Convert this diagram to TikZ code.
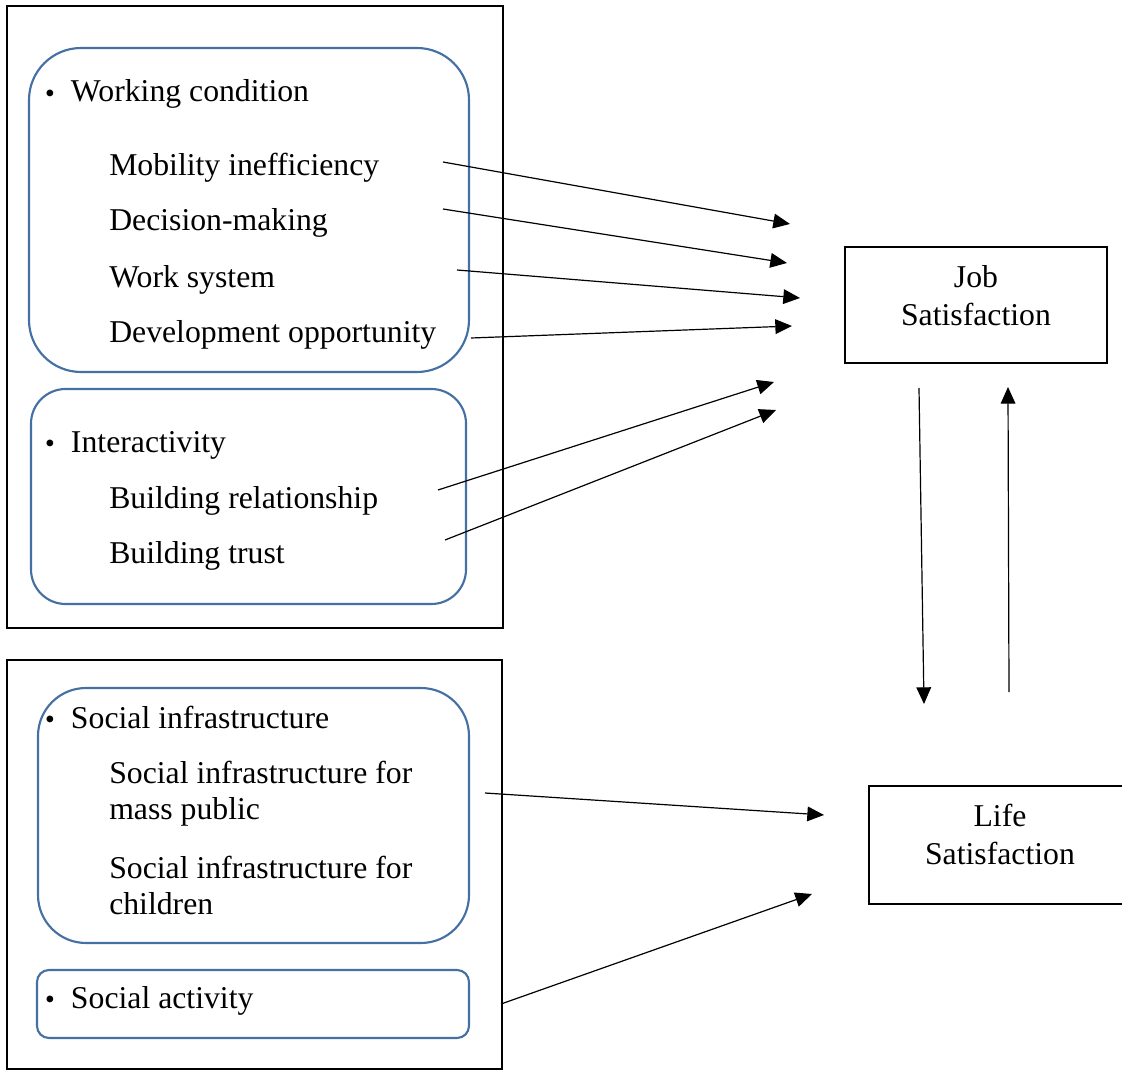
\documentclass[tikz,border=0pt]{standalone}
\usepackage{fontspec}
\setmainfont{Liberation Serif}
\newfontfamily\cjk{Noto Sans CJK JP}
\usetikzlibrary{arrows.meta}
\definecolor{boxblue}{RGB}{68,112,163}
\newcommand{\bul}{\raisebox{-2.5pt}{\cjk ・}\hspace{3.75pt}}
\begin{document}
\begin{tikzpicture}[x=0.75pt,y=-0.75pt,
  txt/.style={anchor=base west, inner sep=0pt, font=\fontsize{23.8}{28.5}\selectfont},
  outerbox/.style={draw=black, line width=1.8pt},
  groupbox/.style={draw=boxblue, line width=1.6pt},
  satbox/.style={draw=black, line width=0.9pt, inner sep=0pt},
  sattext/.style={align=center, inner sep=0pt, font=\fontsize{23.8}{28.5}\selectfont},
  link/.style={line width=0.9pt, -{Triangle[length=12.5pt,width=11pt]}}]
\useasboundingbox (0,0) rectangle (1122,1070);
% outer frames
\draw[outerbox] (7,6) rectangle (503,628);
\draw[outerbox] (7,660) rectangle (502,1069);
% group boxes
\draw[groupbox, rounded corners=39pt] (29,48) rectangle (469,372);
\draw[groupbox, rounded corners=26pt] (31,389) rectangle (466,604);
\draw[groupbox, rounded corners=36pt] (38,688) rectangle (469,943);
\draw[groupbox, rounded corners=9pt] (37,970) rectangle (469,1038);
% texts
\node[txt] (wc) at (34,102) {\bul Working condition};
\node[txt] (mi) at (109,176) {Mobility inefficiency};
\node[txt] (dm) at (109,231) {Decision-making};
\node[txt] (ws) at (109,287) {Work system};
\node[txt] (do) at (109,342) {Development opportunity};
\node[txt] (ia) at (34,452) {\bul Interactivity};
\node[txt] (br) at (109,508) {Building relationship};
\node[txt] (bt) at (109,563) {Building trust};
\node[txt] (si) at (34,728) {\bul Social infrastructure};
\node[txt] (sim1) at (109,783) {Social infrastructure for};
\node[txt] (sim2) at (109,819) {mass public};
\node[txt] (sic1) at (109,878) {Social infrastructure for};
\node[txt] (sic2) at (109,914) {children};
\node[txt] (sa) at (34,1008) {\bul Social activity};
% satisfaction boxes
\node[satbox, minimum width=196.5pt, minimum height=87pt] (job) at (976,305) {};
\node[sattext] (jobt) at (976,296) {Job\\Satisfaction};
\draw[line width=0.9pt] (1135,786) -- (869,786) -- (869,904) -- (1135,904);
\coordinate (life) at (1000,845);
\node[sattext] (lifet) at (1000,834) {Life\\Satisfaction};
% arrow endpoints
\coordinate (a1s) at (443,162); \coordinate (a1e) at (790,224);
\coordinate (a2s) at (443,209); \coordinate (a2e) at (787,263);
\coordinate (a3s) at (457,270); \coordinate (a3e) at (800,298);
\coordinate (a4s) at (471,338); \coordinate (a4e) at (792,326);
\coordinate (a5s) at (438,490); \coordinate (a5e) at (774,382);
\coordinate (a6s) at (445,540); \coordinate (a6e) at (776,410);
\coordinate (a7s) at (919,388); \coordinate (a7e) at (924,704);
\coordinate (a8s) at (1009,692); \coordinate (a8e) at (1008,387);
\coordinate (a9s) at (485,793); \coordinate (a9e) at (824,815);
\coordinate (a10s) at (501,1004); \coordinate (a10e) at (812,894);
% arrows
\draw[link] (a1s) -- (a1e);
\draw[link] (a2s) -- (a2e);
\draw[link] (a3s) -- (a3e);
\draw[link] (a4s) -- (a4e);
\draw[link] (a5s) -- (a5e);
\draw[link] (a6s) -- (a6e);
\draw[link] (a7s) -- (a7e);
\draw[link] (a8s) -- (a8e);
\draw[link] (a9s) -- (a9e);
\draw[link] (a10s) -- (a10e);
\end{tikzpicture}
\end{document}
